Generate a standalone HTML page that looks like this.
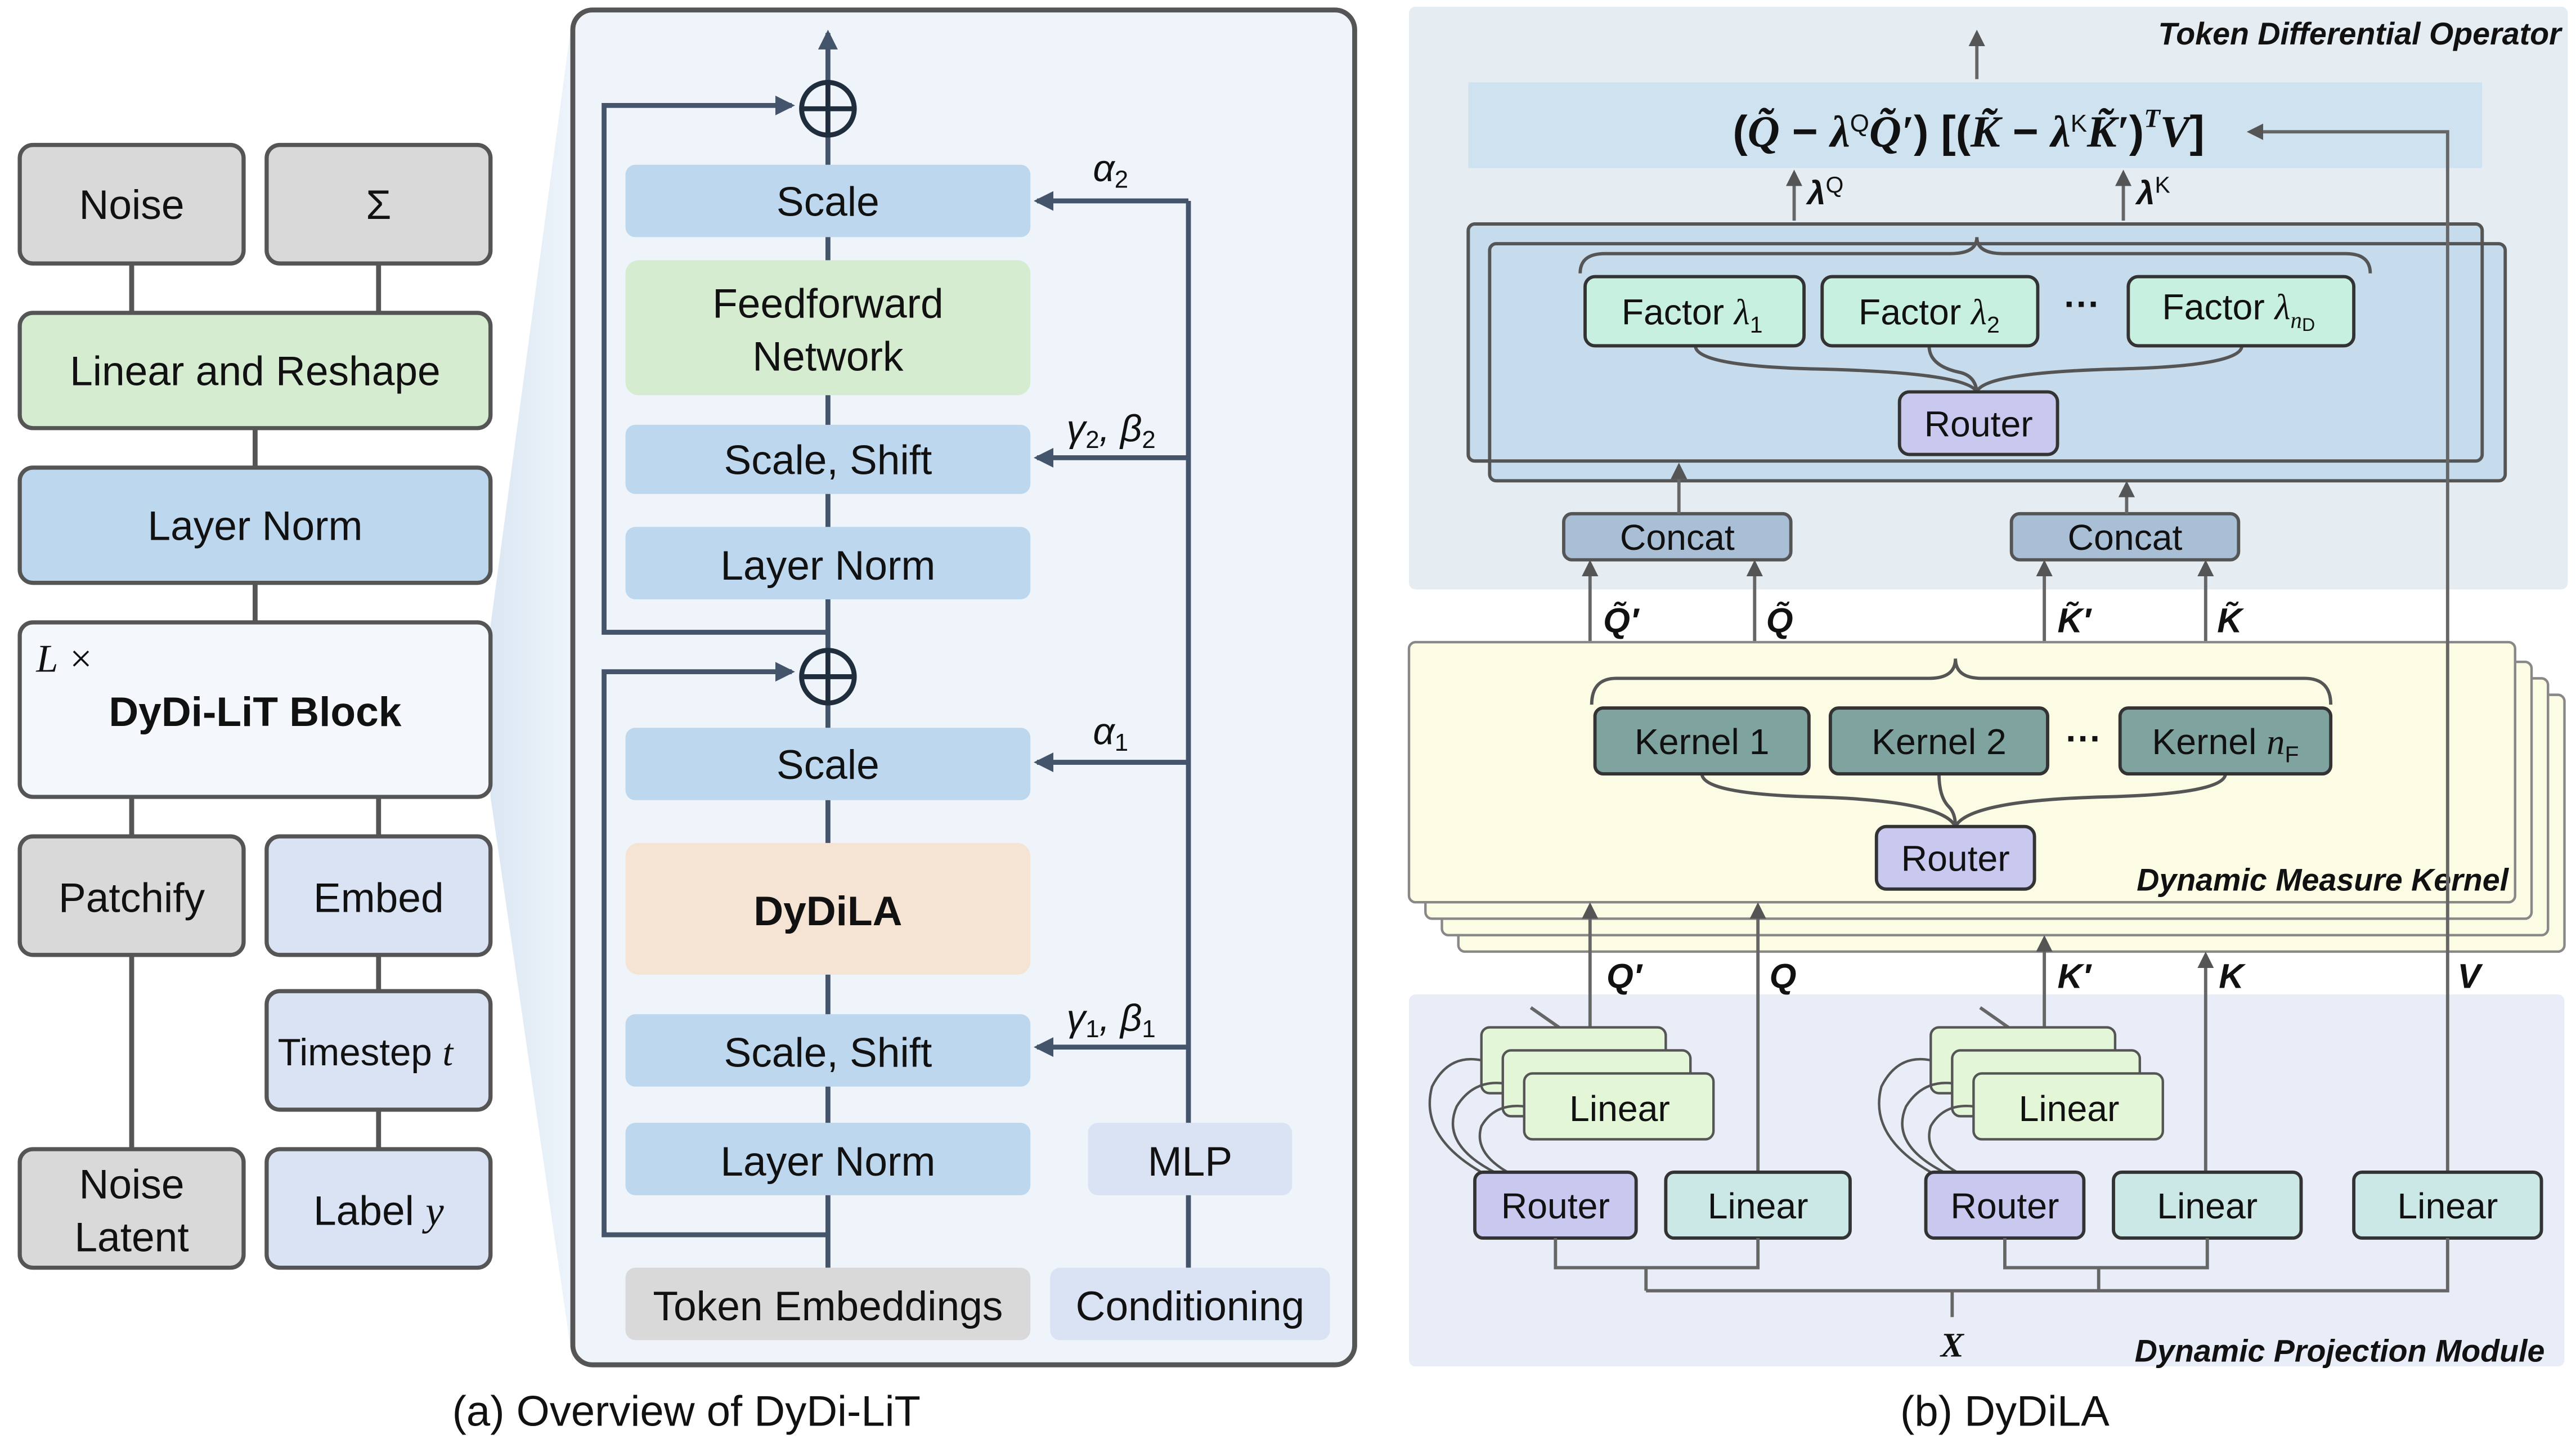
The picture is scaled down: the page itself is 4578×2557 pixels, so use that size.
<!DOCTYPE html>
<html><head><meta charset="utf-8"><style>
html,body{margin:0;padding:0;background:#fff}
svg{display:block}
text{font-family:"Liberation Sans",sans-serif;fill:#111}
.m{font-family:"Liberation Serif",serif;font-style:italic}
.b{font-weight:bold}
</style></head><body>
<svg width="4578" height="2557" viewBox="0 0 1565 874" xmlns="http://www.w3.org/2000/svg">
<defs>
<marker id="ar" markerWidth="10" markerHeight="10" refX="8" refY="5" orient="auto" markerUnits="userSpaceOnUse"><path d="M0,0 L10,5 L0,10 Z" fill="#555"/></marker>
<marker id="ar2" markerWidth="12" markerHeight="12" refX="10" refY="6" orient="auto" markerUnits="userSpaceOnUse"><path d="M0,0 L12,6 L0,12 Z" fill="#44546a"/></marker>
<linearGradient id="tz" x1="0" x2="1" y1="0" y2="0"><stop offset="0" stop-color="#dbe7f3"/><stop offset="1" stop-color="#eef4fa"/></linearGradient>
</defs>
<rect width="1565" height="874" fill="#fff"/>

<polygon points="298,380 348,8 348,828 298,484" fill="url(#tz)"/>

<g stroke="#555" stroke-width="3">
<line x1="80" y1="160" x2="80" y2="190"/><line x1="230" y1="160" x2="230" y2="190"/>
<line x1="155" y1="260" x2="155" y2="284"/><line x1="155" y1="354" x2="155" y2="378"/>
<line x1="80" y1="484" x2="80" y2="508"/><line x1="230" y1="484" x2="230" y2="508"/>
<line x1="80" y1="580" x2="80" y2="698"/><line x1="230" y1="580" x2="230" y2="602"/>
<line x1="230" y1="674" x2="230" y2="698"/>
</g>
<g stroke="#555" stroke-width="2.5">
<rect x="12" y="88" width="136" height="72" rx="8" fill="#d9d9d9"/>
<rect x="162" y="88" width="136" height="72" rx="8" fill="#d9d9d9"/>
<rect x="12" y="190" width="286" height="70" rx="8" fill="#d5ecd0"/>
<rect x="12" y="284" width="286" height="70" rx="8" fill="#bdd7ee"/>
<rect x="12" y="378" width="286" height="106" rx="8" fill="#f4f8fc"/>
<rect x="12" y="508" width="136" height="72" rx="8" fill="#d9d9d9"/>
<rect x="162" y="508" width="136" height="72" rx="8" fill="#dae3f3"/>
<rect x="162" y="602" width="136" height="72" rx="8" fill="#dae3f3"/>
<rect x="12" y="698" width="136" height="72" rx="8" fill="#d9d9d9"/>
<rect x="162" y="698" width="136" height="72" rx="8" fill="#dae3f3"/>
</g>
<g font-size="25" text-anchor="middle">
<text x="80" y="133">Noise</text><text x="230" y="133">Σ</text>
<text x="155" y="234">Linear and Reshape</text>
<text x="155" y="328">Layer Norm</text>
<text x="155" y="441" class="b">DyDi-LiT Block</text>
<text x="80" y="554">Patchify</text><text x="230" y="554">Embed</text>
<text x="222" y="647" font-size="23">Timestep <tspan class="m">t</tspan></text>
<text x="80" y="728">Noise</text><text x="80" y="760">Latent</text>
<text x="230" y="744">Label <tspan class="m">y</tspan></text>
</g>
<text x="22" y="408" font-size="24" class="m">L ×</text>

<rect x="348" y="6" width="475" height="823" rx="12" fill="#eef4fa" stroke="#555" stroke-width="3"/>
<g stroke="#44546a" stroke-width="3" fill="none">
<line x1="503" y1="770" x2="503" y2="20" marker-end="url(#ar2)"/>
<polyline points="503,750 367,750 367,408 481,408" marker-end="url(#ar2)"/>
<polyline points="503,384 367,384 367,64 481,64" marker-end="url(#ar2)"/>
<line x1="722" y1="770" x2="722" y2="122"/>
<line x1="722" y1="122" x2="630" y2="122" marker-end="url(#ar2)"/>
<line x1="722" y1="278" x2="630" y2="278" marker-end="url(#ar2)"/>
<line x1="722" y1="463" x2="630" y2="463" marker-end="url(#ar2)"/>
<line x1="722" y1="636" x2="630" y2="636" marker-end="url(#ar2)"/>
</g>
<g fill="#bdd7ee">
<rect x="380" y="100" width="246" height="44" rx="6"/>
<rect x="380" y="158" width="246" height="82" rx="8" fill="#d5ecd0"/>
<rect x="380" y="258" width="246" height="42" rx="6"/>
<rect x="380" y="320" width="246" height="44" rx="6"/>
<rect x="380" y="442" width="246" height="44" rx="6"/>
<rect x="380" y="512" width="246" height="80" rx="8" fill="#f5e3d3"/>
<rect x="380" y="616" width="246" height="44" rx="6"/>
<rect x="380" y="682" width="246" height="44" rx="6"/>
<rect x="661" y="682" width="124" height="44" rx="6" fill="#dae3f3"/>
<rect x="380" y="770" width="246" height="44" rx="6" fill="#d9d9d9"/>
<rect x="638" y="770" width="170" height="44" rx="6" fill="#dae3f3"/>
</g>
<g stroke="#1f2d3d" stroke-width="3" fill="#eef4fa">
<circle cx="503" cy="66" r="16"/><circle cx="503" cy="411" r="16"/>
<path d="M487,66 H519 M503,50 V82 M487,411 H519 M503,395 V427" fill="none"/>
</g>
<g font-size="25" text-anchor="middle">
<text x="503" y="131">Scale</text>
<text x="503" y="193">Feedforward</text><text x="503" y="225">Network</text>
<text x="503" y="288">Scale, Shift</text>
<text x="503" y="352">Layer Norm</text>
<text x="503" y="473">Scale</text>
<text x="503" y="562" class="b">DyDiLA</text>
<text x="503" y="648">Scale, Shift</text>
<text x="503" y="714">Layer Norm</text>
<text x="723" y="714">MLP</text>
<text x="503" y="802">Token Embeddings</text>
<text x="723" y="802">Conditioning</text>
</g>
<g font-size="23" class="m">
<text x="664" y="110">α<tspan font-size="15" dy="4" font-style="normal">2</tspan></text>
<text x="648" y="268">γ<tspan font-size="15" dy="4" font-style="normal">2</tspan><tspan dy="-4">, β</tspan><tspan font-size="15" dy="4" font-style="normal">2</tspan></text>
<text x="664" y="452">α<tspan font-size="15" dy="4" font-style="normal">1</tspan></text>
<text x="648" y="626">γ<tspan font-size="15" dy="4" font-style="normal">1</tspan><tspan dy="-4">, β</tspan><tspan font-size="15" dy="4" font-style="normal">1</tspan></text>
</g>

<rect x="856" y="4" width="704" height="354" rx="4" fill="#e5edf3"/>
<rect x="856" y="604" width="702" height="226" rx="4" fill="#e9edf8"/>
<rect x="892" y="50" width="616" height="52" fill="#cfe2ef"/>
<text x="1556" y="27" font-size="19" text-anchor="end" class="b" font-style="italic">Token Differential Operator</text>
<text x="1196" y="89" font-size="27" text-anchor="middle" class="b" font-family="Liberation Serif">(<tspan class="m">Q̃</tspan> − <tspan class="m">λ</tspan><tspan font-size="15" dy="-9" font-weight="normal">Q</tspan><tspan dy="9" class="m">Q̃′</tspan>) [(<tspan class="m">K̃</tspan> − <tspan class="m">λ</tspan><tspan font-size="15" dy="-9" font-weight="normal">K</tspan><tspan dy="9" class="m">K̃′</tspan>)<tspan font-size="16" dy="-12" class="m">T</tspan><tspan dy="12" class="m">V</tspan>]</text>

<g stroke="#666" stroke-width="2" fill="none">
<line x1="1201" y1="48" x2="1201" y2="20" marker-end="url(#ar)"/>
<line x1="1090" y1="134" x2="1090" y2="105" marker-end="url(#ar)"/>
<line x1="1290" y1="134" x2="1290" y2="105" marker-end="url(#ar)"/>
</g>
<text x="1098" y="124" font-size="20" class="b" font-family="Liberation Serif" font-style="italic">λ<tspan font-size="14" dy="-7" font-style="normal" font-weight="normal">Q</tspan></text>
<text x="1298" y="124" font-size="20" class="b" font-family="Liberation Serif" font-style="italic">λ<tspan font-size="14" dy="-7" font-style="normal" font-weight="normal">K</tspan></text>

<rect x="892" y="136" width="616" height="144" rx="4" fill="#c6dcec" stroke="#555" stroke-width="2"/>
<rect x="905" y="148" width="617" height="144" rx="4" fill="#c6dcec" stroke="#555" stroke-width="2"/>
<rect x="892" y="136" width="616" height="144" rx="4" fill="none" stroke="#555" stroke-width="2"/>
<path d="M960,166 Q960,154 975,154 L1185,154 Q1201,154 1201,144 Q1201,154 1217,154 L1425,154 Q1440,154 1440,166" fill="none" stroke="#555" stroke-width="2"/>
<g fill="none" stroke="#555" stroke-width="2">
<path d="M1030,210 Q1030,222 1100,224 Q1195,226 1201,238"/>
<path d="M1172,210 Q1172,222 1190,226 Q1200,228 1201,238"/>
<path d="M1362,210 Q1362,222 1290,224 Q1205,226 1201,238"/>
</g>
<g stroke="#333" stroke-width="2" fill="#c8f0e0">
<rect x="963" y="168" width="133" height="42" rx="6"/>
<rect x="1107" y="168" width="131" height="42" rx="6"/>
<rect x="1293" y="168" width="137" height="42" rx="6"/>
<rect x="1154" y="238" width="96" height="38" rx="6" fill="#c9c9f0"/>
</g>
<g font-size="22" text-anchor="middle">
<text x="1028" y="197">Factor <tspan class="m">λ</tspan><tspan font-size="14" dy="5">1</tspan></text>
<text x="1172" y="197">Factor <tspan class="m">λ</tspan><tspan font-size="14" dy="5">2</tspan></text>
<text x="1360" y="194">Factor <tspan class="m">λ</tspan><tspan font-size="14" dy="5" class="m">n</tspan><tspan font-size="11" dy="2">D</tspan></text>
<text x="1265" y="192" class="b">···</text>
<text x="1202" y="265">Router</text>
</g>
<g stroke="#555" stroke-width="2">
<rect x="950" y="312" width="138" height="28" rx="5" fill="#a9bfd6"/>
<rect x="1222" y="312" width="138" height="28" rx="5" fill="#a9bfd6"/>
</g>
<text x="1019" y="334" font-size="22" text-anchor="middle">Concat</text>
<text x="1291" y="334" font-size="22" text-anchor="middle">Concat</text>
<g stroke="#666" stroke-width="2" fill="none">
<line x1="1020" y1="312" x2="1020" y2="283" marker-end="url(#ar)"/>
<line x1="1292" y1="312" x2="1292" y2="294" marker-end="url(#ar)"/>
<line x1="966" y1="412" x2="966" y2="342" marker-end="url(#ar)"/>
<line x1="1066" y1="412" x2="1066" y2="342" marker-end="url(#ar)"/>
<line x1="1242" y1="412" x2="1242" y2="342" marker-end="url(#ar)"/>
<line x1="1340" y1="412" x2="1340" y2="342" marker-end="url(#ar)"/>
</g>
<g font-size="21" class="b m" font-family="Liberation Serif">
<text x="974" y="384">Q̃′</text><text x="1073" y="384">Q̃</text>
<text x="1250" y="384">K̃′</text><text x="1347" y="384">K̃</text>
</g>

<g stroke="#888" stroke-width="1.5" fill="#fcfce4">
<rect x="886" y="422" width="672" height="156" rx="4"/>
<rect x="876" y="412" width="672" height="156" rx="4"/>
<rect x="866" y="402" width="672" height="156" rx="4"/>
<rect x="856" y="390" width="672" height="158" rx="4"/>
</g>
<path d="M967,428 Q967,412 982,412 L1172,412 Q1188,412 1188,400 Q1188,412 1204,412 L1400,412 Q1416,412 1416,428" fill="none" stroke="#555" stroke-width="2"/>
<g fill="none" stroke="#555" stroke-width="2">
<path d="M1034,470 Q1034,482 1100,484 Q1180,486 1188,502"/>
<path d="M1178,470 Q1178,484 1184,490 Q1188,494 1188,502"/>
<path d="M1352,470 Q1352,482 1280,484 Q1196,486 1188,502"/>
</g>
<g stroke="#333" stroke-width="2" fill="#7fa39e">
<rect x="969" y="430" width="130" height="40" rx="5"/>
<rect x="1112" y="430" width="132" height="40" rx="5"/>
<rect x="1288" y="430" width="128" height="40" rx="5"/>
<rect x="1140" y="502" width="96" height="38" rx="6" fill="#c9c9f0"/>
</g>
<g font-size="22" text-anchor="middle">
<text x="1034" y="458">Kernel 1</text><text x="1178" y="458">Kernel 2</text>
<text x="1352" y="458">Kernel <tspan class="m">n</tspan><tspan font-size="14" dy="5">F</tspan></text>
<text x="1266" y="456" class="b">···</text>
<text x="1188" y="529">Router</text>
</g>
<text x="1524" y="541" font-size="19" text-anchor="end" class="b" font-style="italic">Dynamic Measure Kernel</text>

<g stroke="#666" stroke-width="2" fill="none">
<line x1="966" y1="626" x2="966" y2="550" marker-end="url(#ar)"/>
<line x1="1068" y1="712" x2="1068" y2="550" marker-end="url(#ar)"/>
<line x1="1242" y1="626" x2="1242" y2="570" marker-end="url(#ar)"/>
<line x1="1340" y1="712" x2="1340" y2="580" marker-end="url(#ar)"/>
<polyline points="1487,712 1487,80 1367,80" marker-end="url(#ar)"/>
<line x1="930" y1="612" x2="970" y2="640"/>
<line x1="1203" y1="612" x2="1243" y2="640"/>
</g>
<g font-size="21" class="b m" font-family="Liberation Serif">
<text x="976" y="600">Q′</text><text x="1075" y="600">Q</text>
<text x="1250" y="600">K′</text><text x="1348" y="600">K</text><text x="1493" y="600">V</text>
</g>
<g stroke="#555" stroke-width="1.5" fill="#e3f6d8">
<rect x="900" y="624" width="112" height="40" rx="5"/>
<rect x="913" y="638" width="114" height="40" rx="5"/>
<rect x="926" y="652" width="115" height="40" rx="5"/>
<rect x="1173" y="624" width="112" height="40" rx="5"/>
<rect x="1186" y="638" width="114" height="40" rx="5"/>
<rect x="1199" y="652" width="115" height="40" rx="5"/>
</g>
<g fill="none" stroke="#555" stroke-width="1.5">
<path d="M900,712 Q862,690 870,660 Q880,640 900,644"/>
<path d="M908,712 Q875,695 885,672 Q895,656 913,658"/>
<path d="M916,712 Q895,700 900,684 Q908,670 926,672"/>
<path d="M1173,712 Q1135,690 1143,660 Q1153,640 1173,644"/>
<path d="M1181,712 Q1148,695 1158,672 Q1168,656 1186,658"/>
<path d="M1189,712 Q1168,700 1173,684 Q1181,670 1199,672"/>
</g>
<g stroke="#333" stroke-width="2">
<rect x="896" y="712" width="98" height="40" rx="5" fill="#c9c9f0"/>
<rect x="1012" y="712" width="112" height="40" rx="5" fill="#cce8e6"/>
<rect x="1170" y="712" width="96" height="40" rx="5" fill="#c9c9f0"/>
<rect x="1284" y="712" width="114" height="40" rx="5" fill="#cce8e6"/>
<rect x="1430" y="712" width="114" height="40" rx="5" fill="#cce8e6"/>
</g>
<g font-size="22" text-anchor="middle">
<text x="984" y="681">Linear</text><text x="1257" y="681">Linear</text>
<text x="945" y="740">Router</text><text x="1068" y="740">Linear</text>
<text x="1218" y="740">Router</text><text x="1341" y="740">Linear</text>
<text x="1487" y="740">Linear</text>
</g>
<g stroke="#666" stroke-width="2" fill="none">
<polyline points="945,752 945,770 1068,770 1068,752"/>
<polyline points="1218,752 1218,770 1341,770 1341,752"/>
<line x1="1000" y1="770" x2="1000" y2="784"/>
<line x1="1275" y1="770" x2="1275" y2="784"/>
<polyline points="1000,784 1487,784 1487,752"/>
<line x1="1186" y1="784" x2="1186" y2="800"/>
</g>
<text x="1186" y="824" font-size="21" text-anchor="middle" class="b m" font-family="Liberation Serif">X</text>
<text x="1546" y="827" font-size="19" text-anchor="end" class="b" font-style="italic">Dynamic Projection Module</text>

<text x="417" y="866" font-size="26" text-anchor="middle">(a) Overview of DyDi-LiT</text>
<text x="1218" y="866" font-size="26" text-anchor="middle">(b) DyDiLA</text>
</svg>
</body></html>
